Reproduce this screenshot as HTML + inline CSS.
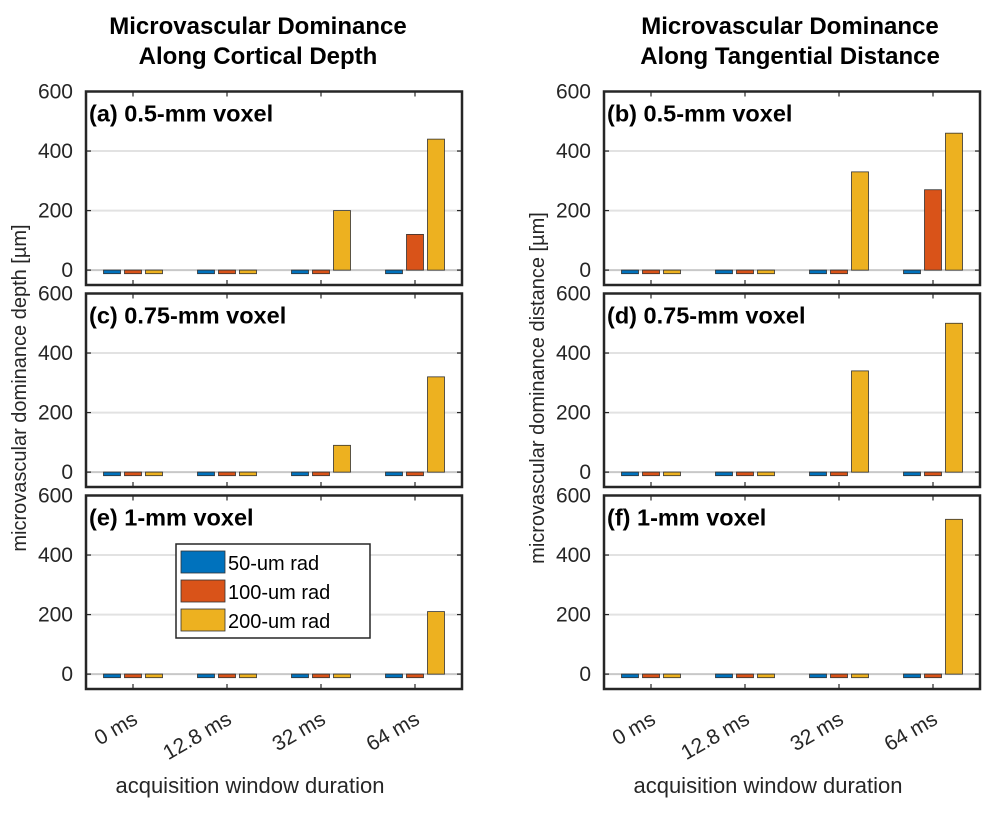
<!DOCTYPE html>
<html><head><meta charset="utf-8"><style>
body{margin:0;background:#fff;}
svg{display:block;font-family:"Liberation Sans",Arial,sans-serif;}
</style></head><body>
<svg id="c" width="1000" height="813" viewBox="0 0 1000 813"></svg>
<script>
const categories=["0 ms","12.8 ms","32 ms","64 ms"];
const seriesNames=["50-um rad","100-um rad","200-um rad"];
const colors=["#0072BD","#D95319","#EDB120"];
const yTicks=[0,200,400,600];
const panelLabels=["(a) 0.5-mm voxel","(b) 0.5-mm voxel","(c) 0.75-mm voxel","(d) 0.75-mm voxel","(e) 1-mm voxel","(f) 1-mm voxel"];
const a50=[-12,-12,-12,-12], a100=[-12,-12,-12,120], a200=[-12,-12,200,440];
const b50=[-12,-12,-12,-12], b100=[-12,-12,-12,270], b200=[-12,-12,330,460];
const c50=[-12,-12,-12,-12], c100=[-12,-12,-12,-12], c200=[-12,-12,90,320];
const d50=[-12,-12,-12,-12], d100=[-12,-12,-12,-12], d200=[-12,-12,340,500];
const e50=[-12,-12,-12,-12], e100=[-12,-12,-12,-12], e200=[-12,-12,-12,210];
const f50=[-12,-12,-12,-12], f100=[-12,-12,-12,-12], f200=[-12,-12,-12,520];
const panelData=[[a50,a100,a200],[b50,b100,b200],[c50,c100,c200],[d50,d100,d200],[e50,e100,e200],[f50,f100,f200]];

const svg=document.getElementById('c');
const NS="http://www.w3.org/2000/svg";
function mk(tag,attrs,parent){const e=document.createElementNS(NS,tag);for(const k in attrs)e.setAttribute(k,attrs[k]);(parent||svg).appendChild(e);return e;}
const W=376, yMin=-50, yMax=600;
function panel(idx,left,top){
  const g=mk('g',{});
  
  
  const bottom=top+193.5;
  const yS=v=>top+(yMax-v)/(yMax-yMin)*(bottom-top);
  const xS=i=>left+(i+0.5)/4*W;
  mk('rect',{x:left,y:top,width:W,height:bottom-top,fill:'#fff'},g);
  yTicks.forEach(t=>{
    const gl=mk('line',{x1:left,x2:left+W,y1:yS(t),y2:yS(t),stroke:t===0?'#c8c8c8':'#e2e2e2','stroke-width':2},g);
    
    
    mk('line',{x1:left,x2:left+5,y1:yS(t),y2:yS(t),stroke:'#262626','stroke-width':1.2},g);
    mk('line',{x1:left+W-5,x2:left+W,y1:yS(t),y2:yS(t),stroke:'#262626','stroke-width':1.2},g);
    const tl=mk('text',{x:left-13,y:yS(t)+7,'text-anchor':'end','font-size':21,fill:'#262626'},g);
    tl.textContent=t;
    
    
  });
  categories.forEach((c,i)=>{
    mk('line',{x1:xS(i),x2:xS(i),y1:top,y2:top+5,stroke:'#262626','stroke-width':1.2},g);
    mk('line',{x1:xS(i),x2:xS(i),y1:bottom-5,y2:bottom,stroke:'#262626','stroke-width':1.2},g);
  });
  const data=panelData[idx];
  data.forEach((ser,s)=>{
    ser.forEach((v,i)=>{
      const cx=xS(i)+(s-1)*21;
      const y0=yS(0), y1=yS(v);
      const r=mk('rect',{x:cx-8.5,y:Math.min(y0,y1),width:17,height:Math.max(1,Math.abs(y1-y0)),fill:colors[s],stroke:'#333','stroke-width':0.8},g);
      
      
    });
  });
  mk('rect',{x:left,y:top,width:W,height:bottom-top,fill:'none',stroke:'#262626','stroke-width':2.5},g);
  const pl=mk('text',{x:left+3,y:top+30,'font-size':23.5,'font-weight':'bold',fill:'#000'},g);
  pl.textContent=panelLabels[idx];
  
  
  return {xS,yS,bottom};
}
const lefts=[86,604], tops=[91.5,293.5,495.5];
let last=[];
for(let r=0;r<3;r++)for(let c=0;c<2;c++){last[c]=panel(r*2+c,lefts[c],tops[r]);}
[0,1].forEach(c=>{
  categories.forEach((cat,i)=>{
    const x=last[c].xS(i)+6, y=723;
    const t=mk('text',{x:x,y:y,'text-anchor':'end','font-size':21,fill:'#262626',transform:`rotate(-30 ${x} ${y})`});
    t.textContent=cat;
    
    
  });
  const xl=mk('text',{x:lefts[c]+W/2-24,y:793,'text-anchor':'middle','font-size':22,fill:'#262626'});
  xl.textContent='acquisition window duration';
  
  
});
const titles=[["Microvascular Dominance","Along Cortical Depth",258],["Microvascular Dominance","Along Tangential Distance",790]];
titles.forEach((tt)=>{
  const t=mk('text',{x:tt[2],y:34,'text-anchor':'middle','font-size':24,'font-weight':'bold',fill:'#000'});
  
  
  [tt[0],tt[1]].forEach((s,k)=>{const sp=mk('tspan',{x:tt[2],dy:k?30:0},t);sp.textContent=s;});
});
const yl=[["microvascular dominance depth  [µm]",26],["microvascular dominance distance  [µm]",544]];
yl.forEach(([s,x])=>{
  const t=mk('text',{x:x,y:388,'text-anchor':'middle','font-size':20,fill:'#262626',transform:`rotate(-90 ${x} 388)`});
  t.textContent=s;
  
  
});
const lg=mk('g',{});


mk('rect',{x:176,y:544,width:194,height:94,fill:'#fff',stroke:'#262626','stroke-width':1.5},lg);
seriesNames.forEach((n,s)=>{
  const y=551+s*29;
  const sw=mk('rect',{x:181,y:y,width:44,height:22,fill:colors[s],stroke:'#333','stroke-width':0.8},lg);
  
  
  const t=mk('text',{x:228,y:y+19,'font-size':20,fill:'#000'},lg);
  t.textContent=n;
  
  
});
</script>
</body></html>
